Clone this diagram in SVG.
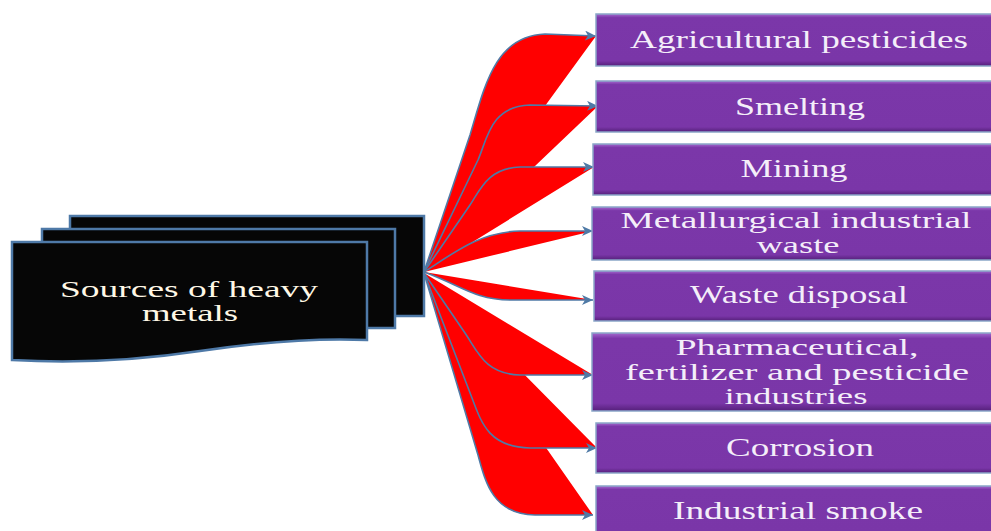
<svg xmlns="http://www.w3.org/2000/svg" width="991" height="531" viewBox="0 0 991 531">
<style>
.doc{fill:#060606;stroke:#4e79a7;stroke-width:2.5}
.box{fill:url(#pg);stroke:#8aa6c8;stroke-width:1.5}
.bt{font-family:"Liberation Serif","Times New Roman",serif;font-size:26px;fill:#f4eef9;text-anchor:middle}
.ml{font-size:24px}
.lt{font-family:"Liberation Serif","Times New Roman",serif;font-size:23px;fill:#fff8e6;text-anchor:middle}
.rf{fill:#ff0000;stroke:none}
.cs{fill:none;stroke:#4f7aa6;stroke-width:1.6;marker-end:url(#ah)}
</style>
<defs>
<linearGradient id="pg" x1="0" y1="0" x2="0" y2="1">
<stop offset="0" stop-color="#a56bcf"/>
<stop offset="0.07" stop-color="#7b37a9"/>
<stop offset="0.9" stop-color="#7a36a8"/>
<stop offset="1" stop-color="#55207a"/>
</linearGradient>
<marker id="ah" markerUnits="userSpaceOnUse" markerWidth="12" markerHeight="10" refX="11" refY="5" orient="auto">
<path d="M0,0 L11,5 L0,10 L3,5 Z" fill="#4f7aa6"/>
</marker>
</defs>

<g id="source">
<path class="doc" d="M70,216 H424 V316 H70 Z"/>
<path class="doc" d="M42,229 H395 V328 H42 Z"/>
<path class="doc" d="M12,242 H367 V340 C 320,338 260,342 200,351 C 140,360 80,364 12,360 Z"/>
<text class="lt" x="189" y="297" textLength="258" lengthAdjust="spacingAndGlyphs">Sources of heavy</text>
<text class="lt" x="190" y="321" textLength="96" lengthAdjust="spacingAndGlyphs">metals</text>
</g>

<g id="connectors">
<path class="rf" d="M424,272 L470,135 C 485,85 495,36 545,34 L596,36 Z"/>
<path class="rf" d="M424,272 L478,160 C 487,140 490,106 530,105 L598,106 Z"/>
<path class="rf" d="M424,272 L470,205 C 480,190 488,168 520,167 L594,167 Z"/>
<path class="rf" d="M424,272 C 455,252 480,232 520,231 L593,231 Z"/>
<path class="rf" d="M424,272 C 460,285 475,300 510,300 L593,300 Z"/>
<path class="rf" d="M424,273 L465,333 C 478,352 485,374 520,375 L593,375 Z"/>
<path class="rf" d="M424,273 L472,398 C 482,425 490,447 530,448 L597,448 Z"/>
<path class="rf" d="M424,273 L478,455 C 486,485 494,514 535,515 L593,515 Z"/>
<path class="cs" d="M424,272 L470,135 C 485,85 495,36 545,34 L596,36"/>
<path class="cs" d="M424,272 L478,160 C 487,140 490,106 530,105 L598,106"/>
<path class="cs" d="M424,272 L470,205 C 480,190 488,168 520,167 L594,167"/>
<path class="cs" d="M424,272 C 455,252 480,232 520,231 L593,231"/>
<path class="cs" d="M424,272 C 460,285 475,300 510,300 L593,300"/>
<path class="cs" d="M424,273 L465,333 C 478,352 485,374 520,375 L593,375"/>
<path class="cs" d="M424,273 L472,398 C 482,425 490,447 530,448 L597,448"/>
<path class="cs" d="M424,273 L478,455 C 486,485 494,514 535,515 L593,515"/>
</g>

<g id="n1"><rect class="box" x="596" y="14" width="400" height="52"/>
<text class="bt" x="799" y="48" textLength="338" lengthAdjust="spacingAndGlyphs">Agricultural pesticides</text></g>
<g id="n2"><rect class="box" x="596" y="81" width="400" height="51"/>
<text class="bt" x="800" y="115" textLength="130" lengthAdjust="spacingAndGlyphs">Smelting</text></g>
<g id="n3"><rect class="box" x="593" y="144" width="403" height="51"/>
<text class="bt" x="794" y="177" textLength="107" lengthAdjust="spacingAndGlyphs">Mining</text></g>
<g id="n4"><rect class="box" x="592" y="207" width="404" height="53"/>
<text class="bt ml" x="796" y="228" textLength="351" lengthAdjust="spacingAndGlyphs">Metallurgical industrial</text>
<text class="bt ml" x="798" y="253" textLength="83" lengthAdjust="spacingAndGlyphs">waste</text></g>
<g id="n5"><rect class="box" x="594" y="271" width="402" height="50"/>
<text class="bt" x="799" y="303" textLength="218" lengthAdjust="spacingAndGlyphs">Waste disposal</text></g>
<g id="n6"><rect class="box" x="592" y="333" width="404" height="78"/>
<text class="bt ml" x="797" y="355" textLength="243" lengthAdjust="spacingAndGlyphs">Pharmaceutical,</text>
<text class="bt ml" x="797" y="380" textLength="344" lengthAdjust="spacingAndGlyphs">fertilizer and pesticide</text>
<text class="bt ml" x="796" y="404" textLength="143" lengthAdjust="spacingAndGlyphs">industries</text></g>
<g id="n7"><rect class="box" x="596" y="423" width="400" height="50"/>
<text class="bt" x="800" y="456" textLength="148" lengthAdjust="spacingAndGlyphs">Corrosion</text></g>
<g id="n8"><rect class="box" x="596" y="486" width="400" height="50"/>
<text class="bt" x="798" y="519" textLength="250" lengthAdjust="spacingAndGlyphs">Industrial smoke</text></g>
</svg>
